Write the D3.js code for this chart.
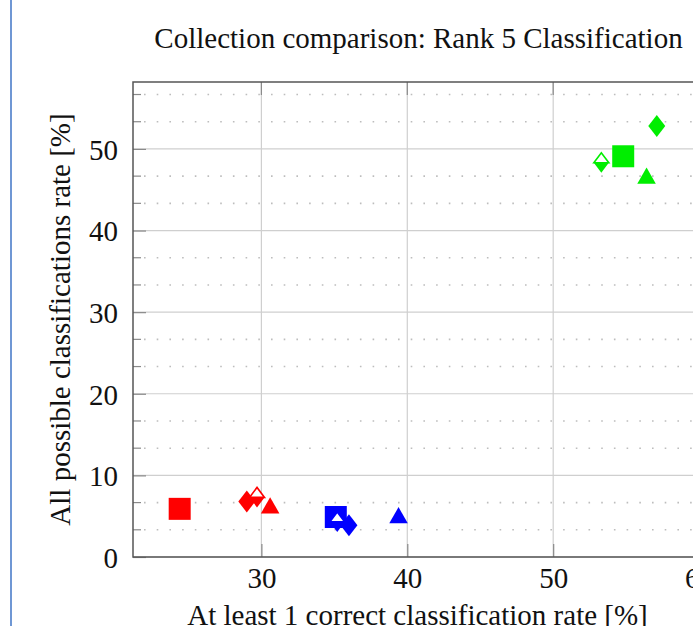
<!DOCTYPE html>
<html>
<head>
<meta charset="utf-8">
<style>
  body { margin: 0; background: #fff; }
  svg text { font-family: "Liberation Serif", "DejaVu Serif", serif; fill: #111; }
</style>
</head>
<body>
<svg width="693" height="626"></svg>
<script src="https://d3js.org/d3.v7.min.js"></script>
<script>
// marker shape per method, same order in every collection
var shapes = ["square", "diamond", "halfdiamond", "triangle"];

var redX = [24.4, 29.0, 29.7, 30.6],
    redY = [5.9, 6.8, 7.3, 6.0];
var blueX = [35.1, 36.0, 35.2, 39.4],
    blueY = [4.9, 3.9, 4.3, 4.8];
var greenX = [54.8, 57.1, 53.3, 56.4],
    greenY = [49.1, 52.8, 48.3, 46.4];

var xTicks = [30, 40, 50, 60];
var yTicks = [0, 10, 20, 30, 40, 50];

var collections = [
  {color: "#ff0000", xs: redX, ys: redY},
  {color: "#0000ff", xs: blueX, ys: blueY},
  {color: "#00ee00", xs: greenX, ys: greenY}
];

var svg = d3.select("svg");
var fs = 29;

// page border at the left
svg.append("line")
  .attr("x1", 11).attr("x2", 11).attr("y1", 0).attr("y2", 626)
  .attr("stroke", "#6f97d4").attr("stroke-width", 2);

var pL = 133, pR = 702, pT = 82, pB = 557;

var x = d3.scaleLinear().domain([21.2, 60.2]).range([pL, pR]);
var y = d3.scaleLinear().domain([0, 58.2]).range([pB, pT]);

// minor grid (2 minor per major on y)
var yMinor = [];
yTicks.concat([60]).forEach(function(t) {
  [t - 20 / 3, t - 10 / 3].forEach(function(m) {
    if (m > 0 && m < 58.2) yMinor.push(m);
  });
});

svg.append("g").selectAll("line")
  .data(yMinor)
  .join("line")
  .attr("x1", pL).attr("x2", pR)
  .attr("y1", function(d) { return y(d); })
  .attr("y2", function(d) { return y(d); })
  .attr("stroke", "#bdbdbd")
  .attr("stroke-width", 1.6)
  .attr("stroke-dasharray", "1.6,11.1")
  .attr("stroke-dashoffset", -11);

// major grid
svg.append("g").selectAll("line")
  .data(yTicks)
  .join("line")
  .attr("x1", pL).attr("x2", pR)
  .attr("y1", function(d) { return y(d); })
  .attr("y2", function(d) { return y(d); })
  .attr("stroke", "#cfcfcf").attr("stroke-width", 1.2);

svg.append("g").selectAll("line")
  .data(xTicks)
  .join("line")
  .attr("x1", function(d) { return x(d); })
  .attr("x2", function(d) { return x(d); })
  .attr("y1", pT).attr("y2", pB)
  .attr("stroke", "#cfcfcf").attr("stroke-width", 1.2);

// axes, ticks drawn inside like pgfplots
var yAxis = d3.axisLeft(y).tickValues(yTicks).tickSize(-13).tickPadding(15).tickFormat(d3.format("d"));
var xAxis = d3.axisBottom(x).tickValues(xTicks).tickSize(-13).tickPadding(10).tickFormat(d3.format("d"));

var gy = svg.append("g").attr("transform", "translate(" + pL + ",0)").call(yAxis);
var gx = svg.append("g").attr("transform", "translate(0," + pB + ")").call(xAxis);
[gx, gy].forEach(function(g) {
  g.select(".domain").remove();
  g.selectAll(".tick line").attr("stroke", "#8a8a8a").attr("stroke-width", 1.2);
  g.selectAll(".tick text").attr("font-size", fs).attr("font-family", "Liberation Serif").attr("fill", "#111");
});
gy.selectAll(".tick text").attr("dy", "0.36em");

// top ticks and minor y ticks
svg.append("g").selectAll("line")
  .data(xTicks)
  .join("line")
  .attr("x1", function(d) { return x(d); })
  .attr("x2", function(d) { return x(d); })
  .attr("y1", pT).attr("y2", pT + 13)
  .attr("stroke", "#8a8a8a").attr("stroke-width", 1.2);
svg.append("g").selectAll("line")
  .data(yMinor)
  .join("line")
  .attr("x1", pL).attr("x2", pL + 8)
  .attr("y1", function(d) { return y(d); })
  .attr("y2", function(d) { return y(d); })
  .attr("stroke", "#8a8a8a").attr("stroke-width", 1.2);

// frame
svg.append("rect")
  .attr("x", pL).attr("y", pT)
  .attr("width", pR - pL).attr("height", pB - pT)
  .attr("fill", "none").attr("stroke", "#555").attr("stroke-width", 1.5);

// markers
function drawMark(g, shape, cx, cy, color) {
  if (shape === "square") {
    g.append("rect").attr("x", cx - 11).attr("y", cy - 11)
      .attr("width", 22).attr("height", 22).attr("fill", color);
  } else if (shape === "diamond") {
    g.append("path").attr("d", "M" + cx + "," + (cy - 11) + "L" + (cx + 8.5) + "," + cy +
      "L" + cx + "," + (cy + 11) + "L" + (cx - 8.5) + "," + cy + "Z").attr("fill", color);
  } else if (shape === "halfdiamond") {
    g.append("path").attr("d", "M" + (cx - 7.5) + "," + cy + "L" + cx + "," + (cy + 10) +
      "L" + (cx + 7.5) + "," + cy + "Z").attr("fill", color);
    g.append("path").attr("d", "M" + (cx - 7.5) + "," + cy + "L" + cx + "," + (cy - 10) +
      "L" + (cx + 7.5) + "," + cy + "Z").attr("fill", "#fff")
      .attr("stroke", color).attr("stroke-width", 1.6).attr("stroke-linejoin", "miter");
  } else {
    var r = 10.7;
    g.append("path").attr("d", "M" + cx + "," + (cy - r) + "L" + (cx + r * 0.866) + "," + (cy + r / 2) +
      "L" + (cx - r * 0.866) + "," + (cy + r / 2) + "Z").attr("fill", color);
  }
}

var marks = svg.append("g");
collections.forEach(function(c) {
  shapes.forEach(function(s, i) {
    drawMark(marks, s, x(c.xs[i]), y(c.ys[i]), c.color);
  });
});

// titles
svg.append("text")
  .attr("x", (pL + pR) / 2 + 1).attr("y", 48)
  .attr("text-anchor", "middle").attr("font-size", fs)
  .text("Collection comparison: Rank 5 Classification");

svg.append("text")
  .attr("x", (pL + pR) / 2).attr("y", 625)
  .attr("text-anchor", "middle").attr("font-size", fs)
  .text("At least 1 correct classification rate [%]");

svg.append("text")
  .attr("transform", "translate(70," + (pT + pB) / 2 + ") rotate(-90)")
  .attr("text-anchor", "middle").attr("font-size", fs)
  .text("All possible classifications rate [%]");
</script>
</body>
</html>
